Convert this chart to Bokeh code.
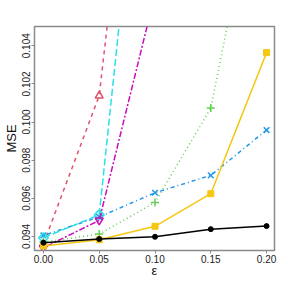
import numpy as np
from bokeh.plotting import figure
from bokeh.models import Range1d, FixedTicker
from bokeh.embed import file_html
from bokeh.resources import INLINE

eps = [0.00, 0.05, 0.10, 0.15, 0.20]

s_red = [0.0936, 0.10138, 0.1270, 0.1450, 0.1600]
s_green = [0.0937, 0.09412, 0.09578, 0.10073, 0.1153]
s_blue = [0.09405, 0.09502, 0.09629, 0.09720, 0.09958]
s_cyan = [0.09393, 0.09513, 0.1230, 0.1400, 0.1550]
s_magenta = [0.0934, 0.09484, 0.1067, 0.1150, 0.1250]
s_yellow = [0.0935, 0.09382, 0.09453, 0.09624, 0.10364]
s_black = [0.09367, 0.09386, 0.09398, 0.09438, 0.09454]

x_ticks = [0.00, 0.05, 0.10, 0.15, 0.20]
y_ticks = [0.094, 0.096, 0.098, 0.100, 0.102, 0.104]

FONT = "Liberation Sans"
GRAY = "#8a8a8a"

p = figure(width=280, height=280, output_backend="svg", toolbar_location=None,
           x_range=Range1d(-0.008, 0.2071), y_range=Range1d(0.09326, 0.10501),
           min_border_left=32, min_border_right=6, min_border_top=26, min_border_bottom=25)
p.xgrid.visible = False
p.ygrid.visible = False
p.outline_line_color = GRAY
p.outline_line_width = 1.5
p.background_fill_color = "white"
p.border_fill_color = "white"

for ax in (p.xaxis[0], p.yaxis[0]):
    ax.axis_line_color = GRAY
    ax.major_tick_line_color = GRAY
    ax.minor_tick_line_color = None
    ax.major_tick_in = 0
    ax.major_tick_out = 3
    ax.major_label_text_font = FONT
    ax.major_label_text_font_size = "10px"
    ax.major_label_text_color = "#222222"
    ax.axis_label_text_font = FONT
    ax.axis_label_text_font_style = "normal"
    ax.axis_label_text_color = "#111111"
    ax.major_label_standoff = 1

p.xaxis.ticker = FixedTicker(ticks=x_ticks)
p.yaxis.ticker = FixedTicker(ticks=y_ticks)
p.xaxis.major_label_overrides = {t: f"{t:.2f}" for t in x_ticks}
p.yaxis.major_label_overrides = {t: f"{t:.3f}" for t in y_ticks}
p.yaxis.major_label_orientation = "vertical"
p.xaxis.axis_label = "ε"
p.yaxis.axis_label = "MSE"
p.xaxis.axis_label_text_font_size = "13px"
p.yaxis.axis_label_text_font_size = "13px"
p.xaxis.axis_label_standoff = -3
p.yaxis.axis_label_standoff = 1

LW = 1.5
# red dashed, open triangle
p.line(eps, s_red, line_color="#DF536B", line_width=LW, line_dash="4 4")
p.scatter(eps, s_red, marker="triangle", size=8, line_color="#DF536B", fill_color=None, line_width=LW)
# green dotted, plus
p.line(eps, s_green, line_color="#61D04F", line_width=LW, line_dash="1 3")
p.scatter(eps, s_green, marker="cross", size=8, line_color="#61D04F", line_width=LW)
# blue dotdash, x
p.line(eps, s_blue, line_color="#2297E6", line_width=LW, line_dash="1 3 4 3")
p.scatter(eps, s_blue, marker="x", size=8, line_color="#2297E6", line_width=LW)
# cyan longdash, diamond
p.line(eps, s_cyan, line_color="#28E2E5", line_width=LW, line_dash="7 3")
p.scatter(eps, s_cyan, marker="square", angle=np.pi / 4, size=7, line_color="#28E2E5",
          fill_color=None, line_width=LW)
# magenta twodash, inverted triangle
p.line(eps, s_magenta, line_color="#CD0BBC", line_width=LW, line_dash="2 2 6 2")
p.scatter(eps, s_magenta, marker="inverted_triangle", size=8, line_color="#CD0BBC",
          fill_color=None, line_width=LW)
# yellow solid, filled square
p.line(eps, s_yellow, line_color="#F5C710", line_width=LW)
p.scatter(eps, s_yellow, marker="square", size=6, line_color="#F5C710", fill_color="#F5C710")
# black solid, filled circle
p.line(eps, s_black, line_color="black", line_width=LW)
p.scatter(eps, s_black, marker="circle", size=5, line_color="black", fill_color="black")

open("out.html", "w").write(file_html(p, INLINE))
